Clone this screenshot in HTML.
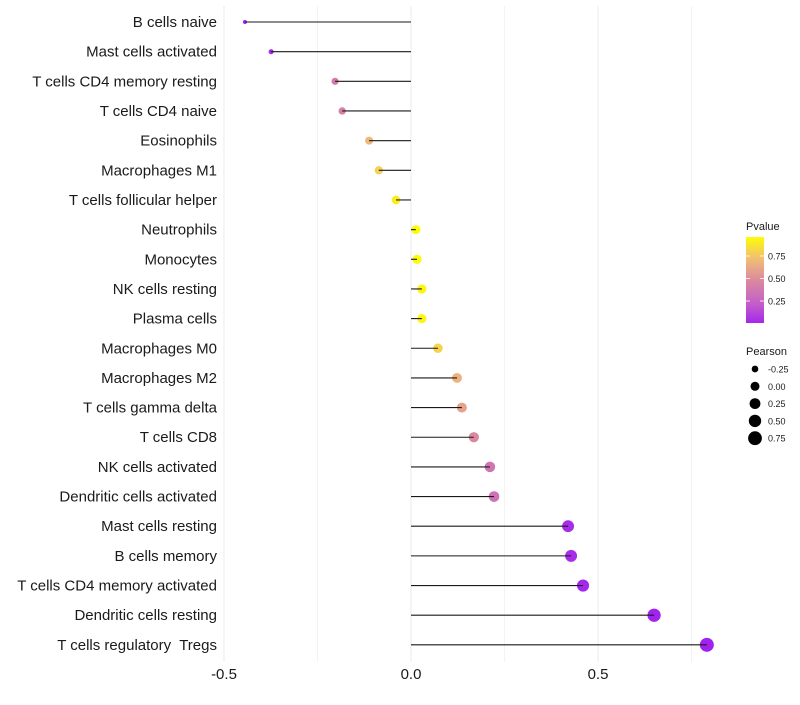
<!DOCTYPE html>
<html><head><meta charset="utf-8"><style>
body{margin:0;background:#fff;font-family:"Liberation Sans",sans-serif}
#ylabels text{white-space:pre}
</style></head><body>
<svg id="chart" width="800" height="700" xmlns="http://www.w3.org/2000/svg" font-family="Liberation Sans, sans-serif">
<g id="grid"></g><g id="points"></g><g id="marks"></g><g id="ylabels"></g><g id="xlabels"></g><g id="legend"></g>
</svg>
<script>
const categories=["B cells naive","Mast cells activated","T cells CD4 memory resting","T cells CD4 naive","Eosinophils","Macrophages M1","T cells follicular helper","Neutrophils","Monocytes","NK cells resting","Plasma cells","Macrophages M0","Macrophages M2","T cells gamma delta","T cells CD8","NK cells activated","Dendritic cells activated","Mast cells resting","B cells memory","T cells CD4 memory activated","Dendritic cells resting","T cells regulatory  Tregs"];
const pearson=[-0.444,-0.374,-0.203,-0.184,-0.112,-0.086,-0.040,0.013,0.016,0.029,0.029,0.072,0.123,0.136,0.168,0.211,0.222,0.420,0.428,0.460,0.650,0.791];
const pvalue=[0.01,0.05,0.42,0.45,0.72,0.82,0.93,0.99,0.98,0.96,0.96,0.83,0.70,0.62,0.50,0.38,0.36,0.05,0.05,0.03,0.01,0.005];
const xTicks=[-0.5,0,0.5];
const xTickLabels=["-0.5","0.0","0.5"];
const pLegendTicks=[0.25,0.5,0.75];
const sizeLegend=[-0.25,0,0.25,0.5,0.75];
const NS="http://www.w3.org/2000/svg";
const xs=v=>411+v*374;
const ys=i=>22+i*29.66;
const pMin=Math.min(...pearson),pMax=Math.max(...pearson);
const rs=v=>Math.sqrt(4+45*(v-pMin)/(pMax-pMin));
function col(p){
  const stops=[[0,[160,32,240]],[0.25,[196,96,200]],[0.5,[218,136,160]],[0.75,[240,190,118]],[1,[255,255,0]]];
  p=Math.max(0,Math.min(1,p));
  let k=0;while(k<stops.length-2&&p>stops[k+1][0])k++;
  const a=stops[k],b=stops[k+1];
  const t=(p-a[0])/(b[0]-a[0]);
  const c=a[1].map((x,j)=>Math.round(x+(b[1][j]-x)*t));
  return `rgb(${c[0]},${c[1]},${c[2]})`;
}
function mk(tag,attrs,parent,text){const e=document.createElementNS(NS,tag);for(const k in attrs)e.setAttribute(k,attrs[k]);if(text!==undefined)e.textContent=text;document.getElementById(parent).appendChild(e);return e;}
[-0.5,-0.25,0,0.25,0.5,0.75].forEach(v=>{
  const l=mk('line',{x1:xs(v),x2:xs(v),y1:6,y2:662,stroke:'#ebebeb','stroke-width':Number.isInteger(v*2)?1:0.6},'grid');
  
  
});
categories.forEach((c,i)=>{
  const y=ys(i);
  const d=mk('circle',{cx:xs(pearson[i]),cy:y,r:rs(pearson[i]),fill:col(pvalue[i])},'points');
  
  
  const l=mk('line',{x1:xs(0),x2:xs(pearson[i]),y1:y,y2:y,stroke:'#1a1a1a','stroke-width':1.1},'marks');
  
  
  const t=mk('text',{x:217,y:y+5,'text-anchor':'end','font-size':15,fill:'#1a1a1a'},'ylabels',c);
  
  
});
xTicks.forEach((v,i)=>{
  const t=mk('text',{x:xs(v),y:679,'text-anchor':'middle','font-size':15,fill:'#1a1a1a'},'xlabels',xTickLabels[i]);
  
  
});
const defs=mk('defs',{},'legend');
const grad=document.createElementNS(NS,'linearGradient');
grad.setAttribute('id','pg');grad.setAttribute('x1','0');grad.setAttribute('y1','1');grad.setAttribute('x2','0');grad.setAttribute('y2','0');
for(let k=0;k<=10;k++){const s=document.createElementNS(NS,'stop');const p=0.03+0.96*k/10;s.setAttribute('offset',k/10);s.setAttribute('stop-color',col(p));grad.appendChild(s);}
defs.appendChild(grad);
const lt=mk('text',{x:746,y:230,'font-size':11,fill:'#1a1a1a'},'legend','Pvalue');


const cb=mk('rect',{x:746,y:237,width:18,height:86,fill:'url(#pg)'},'legend');


const py=p=>323.5-p*90;
pLegendTicks.forEach(p=>{
  mk('line',{x1:746,x2:750,y1:py(p),y2:py(p),stroke:'#fff','stroke-width':0.8},'legend');
  mk('line',{x1:760,x2:764,y1:py(p),y2:py(p),stroke:'#fff','stroke-width':0.8},'legend');
  const t=mk('text',{x:768,y:py(p)+3.5,'font-size':9,fill:'#1a1a1a'},'legend',p.toFixed(2));
  
  
});
const st=mk('text',{x:746,y:355,'font-size':11,fill:'#1a1a1a'},'legend','Pearson');


sizeLegend.forEach((v,i)=>{
  const y=369+i*17.3;
  const c=mk('circle',{cx:755,cy:y,r:rs(v),fill:'#000'},'legend');
  
  
  const t=mk('text',{x:768,y:y+3.5,'font-size':9,fill:'#1a1a1a'},'legend',v.toFixed(2));
  
  
});
</script>
</body></html>
